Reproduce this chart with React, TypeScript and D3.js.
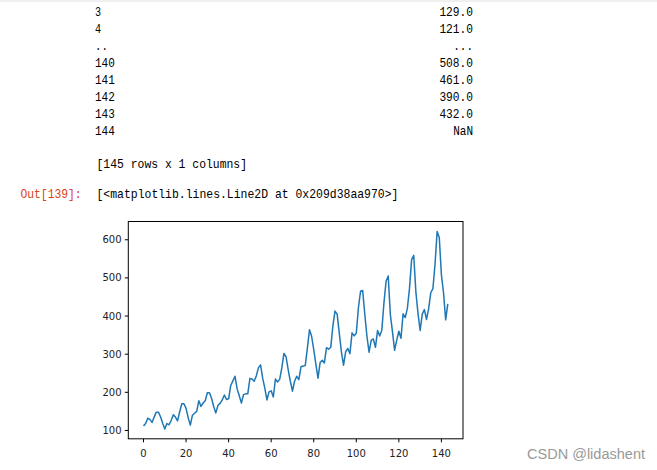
import React from "react";
import * as d3 from "d3";

const passengers: number[] = [
  112, 118, 132, 129, 121, 135, 148, 148, 136, 119, 104, 118,
  115, 126, 141, 135, 125, 149, 170, 170, 158, 133, 114, 140,
  145, 150, 178, 163, 172, 178, 199, 199, 184, 162, 146, 166,
  171, 180, 193, 181, 183, 218, 230, 242, 209, 191, 172, 194,
  196, 196, 236, 235, 229, 243, 264, 272, 237, 211, 180, 201,
  204, 188, 235, 227, 234, 264, 302, 293, 259, 229, 203, 229,
  242, 233, 267, 269, 270, 315, 364, 347, 312, 274, 237, 278,
  284, 277, 317, 313, 318, 374, 413, 405, 355, 306, 271, 306,
  315, 301, 356, 348, 355, 422, 465, 467, 404, 347, 305, 336,
  340, 318, 362, 348, 363, 435, 491, 505, 404, 359, 310, 337,
  360, 342, 406, 396, 420, 472, 548, 559, 463, 407, 362, 405,
  417, 391, 419, 461, 472, 535, 622, 606, 508, 461, 390, 432,
];

const tableIndex: string[] = ["3", "4", "..", "140", "141", "142", "143", "144"];
const tableValues: string[] = ["129.0", "121.0", "...", "508.0", "461.0", "390.0", "432.0", "NaN"];
const xTicks: number[] = [0, 20, 40, 60, 80, 100, 120, 140];
const yTicks: number[] = [100, 200, 300, 400, 500, 600];

const CHAR_W = 6.88;
const mono = "'Liberation Mono', 'DejaVu Sans Mono', monospace";
const sans = "'DejaVu Sans', sans-serif";

export default function App() {
  const left = 128.3, right = 463, top = 221.5, bottom = 438.8;
  const n = passengers.length;
  const xMin = 0, xMax = n - 1;
  const xPad = (xMax - xMin) * 0.05;
  const yMin = d3.min(passengers)!, yMax = d3.max(passengers)!;
  const yPad = (yMax - yMin) * 0.05;
  const x = d3.scaleLinear().domain([xMin - xPad, xMax + xPad]).range([left, right]);
  const y = d3.scaleLinear().domain([yMin - yPad, yMax + yPad]).range([bottom, top]);
  const line = d3.line<number>().x((_, i) => x(i)).y((d) => y(d));

  const monoText = (s: string, px: number, py: number, anchor: "start" | "end", fill = "#000") => (
    <text
      x={px}
      y={py}
      textAnchor={anchor}
      fontFamily={mono}
      fontSize={13.5}
      fill={fill}
      textLength={s.length * CHAR_W - 0.8}
      lengthAdjust="spacingAndGlyphs"
    >
      {s}
    </text>
  );

  return (
    <svg
      width={657}
      height={470}
      style={{ position: "absolute", left: 0, top: 0, background: "#fff" }}
    >
      <rect x={0} y={0} width={657} height={470} fill="#fff" />
      <rect x={0} y={0} width={657} height={2} fill="#f0f0f0" />
      {tableIndex.map((s, i) => (
        <g key={"r" + i}>
          {monoText(s, 95, 16 + 17 * i, "start")}
          {monoText(tableValues[i], 473, 16 + 17 * i, "end")}
        </g>
      ))}
      {monoText("[145 rows x 1 columns]", 96.5, 168, "start")}
      {monoText("Out[139]:", 20.5, 197.5, "start", "#d84315")}
      {monoText("[<matplotlib.lines.Line2D at 0x209d38aa970>]", 96.5, 197.5, "start")}

      <path d={line(passengers) || ""} fill="none" stroke="#1f77b4" strokeWidth={1.5} strokeLinejoin="round" />

      <rect x={left} y={top} width={right - left} height={bottom - top} fill="none" stroke="#000" strokeWidth={1} />

      {xTicks.map((t) => (
        <g key={"x" + t}>
          <line x1={x(t)} x2={x(t)} y1={bottom} y2={bottom + 3.5} stroke="#000" strokeWidth={1} />
          <text x={x(t)} y={456.5} textAnchor="middle" fontFamily={sans} fontSize={10} fill="#222">
            {t}
          </text>
        </g>
      ))}
      {yTicks.map((t) => (
        <g key={"y" + t}>
          <line x1={left - 3.5} x2={left} y1={y(t)} y2={y(t)} stroke="#000" strokeWidth={1} />
          <text x={121.5} y={y(t)} dy="0.35em" textAnchor="end" fontFamily={sans} fontSize={10} fill="#222">
            {t}
          </text>
        </g>
      ))}

      <text
        x={527}
        y={459}
        fontFamily="'Liberation Sans', Arial, sans-serif"
        fontSize={14}
        fill="#999"
        textLength={118}
        lengthAdjust="spacingAndGlyphs"
      >
        CSDN @lidashent
      </text>
    </svg>
  );
}
